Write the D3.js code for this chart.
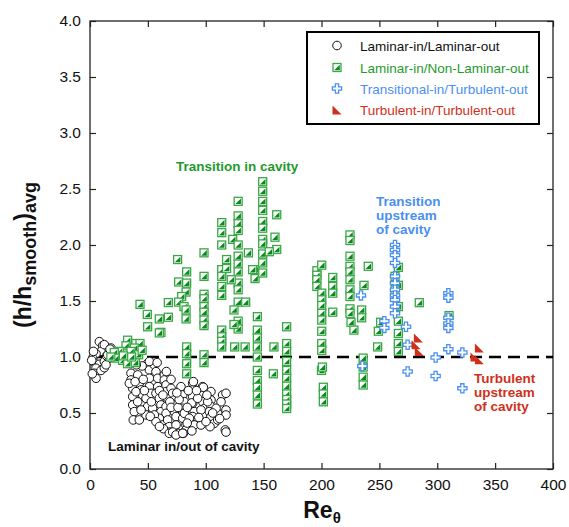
<!DOCTYPE html>
<html>
<head>
<meta charset="utf-8">
<script src="https://cdn.jsdelivr.net/npm/d3@7"></script>
<style>
  body { margin: 0; background: #fff; }
  svg { display: block; }
  text { font-family: "Liberation Sans", Arial, Helvetica, sans-serif; }
</style>
</head>
<body>
<svg id="chart" width="569" height="527"></svg>
<script>
// ---- data ---------------------------------------------------------------
const xTicks = [0, 50, 100, 150, 200, 250, 300, 350, 400];
const yTicks = [0, 0.5, 1.0, 1.5, 2.0, 2.5, 3.0, 3.5, 4.0];
const seriesNames = [
  "Laminar-in/Laminar-out",
  "Laminar-in/Non-Laminar-out",
  "Transitional-in/Turbulent-out",
  "Turbulent-in/Turbulent-out"
];
const referenceLevel = 1.0;

// [Re_theta, (h/h_smooth)_avg]
const laminarLaminar = [
  [8.1,1.137],[10.9,1.10],[13.8,1.06],[9.5,1.05],[5.2,1.03],[2.3,0.99],[3.7,0.95],[8.1,0.935],
  [12.4,0.96],[16.7,0.99],[14.4,1.01],[5.2,0.90],[3.7,0.855],[5.2,0.81],[9.5,0.88],[12.4,0.905],
  [13.8,0.93],[15.3,1.02],[12.4,1.11],[18.1,1.08],[1.5,0.97],[2.0,0.85],[3.0,1.05],[17.3,1.07],
  [35.4,0.855],[35.4,0.795],[36.9,0.72],[36.9,0.646],[36.9,0.572],[38.3,0.512],[37.4,0.438],[42.6,0.438],
  [41.2,0.84],[42.6,0.765],[44.1,0.706],[45.5,0.661],[48.4,0.631],[49.8,0.557],[48.4,0.483],[49.8,0.944],
  [51.3,0.884],[51.3,0.81],[51.3,0.735],[52.7,0.676],[55.6,0.929],[57.0,0.869],[58.5,0.81],[58.5,0.735],
  [57.0,0.676],[59.9,0.631],[61.3,0.572],[61.3,0.512],[59.9,0.453],[62.8,0.393],[64.2,0.84],[64.2,0.795],
  [65.7,0.75],[65.7,0.691],[67.1,0.631],[65.7,0.557],[65.7,0.497],[67.1,0.438],[68.5,0.378],[70.0,0.72],
  [71.4,0.676],[72.9,0.616],[72.9,0.572],[72.9,0.512],[74.3,0.468],[74.3,0.393],[75.7,0.319],[80.1,0.453],
  [78.6,0.735],[80.1,0.661],[81.5,0.601],[80.1,0.542],[81.5,0.497],[82.9,0.393],[82.9,0.349],[88.7,0.765],
  [88.7,0.706],[88.7,0.646],[88.7,0.587],[90.1,0.512],[88.7,0.468],[90.1,0.393],[97.3,0.735],[97.3,0.661],
  [97.3,0.601],[98.8,0.542],[97.3,0.483],[95.9,0.393],[104.5,0.691],[104.5,0.616],[104.5,0.557],[103.1,0.512],
  [104.5,0.468],[110.3,0.497],[114.6,0.661],[117.5,0.676],[117.5,0.527],[117.5,0.482],[116.9,0.349],[107.4,0.408],
  [113.2,0.60],[117.5,0.33],[103.7,0.378],[97.9,0.73],[89.3,0.78],[87.8,0.59],[80.6,0.318],[76.3,0.318],
  [69.1,0.33],[63.4,0.36],[51.3,0.96],[34.0,0.765],[39.7,0.69],[41.2,0.60],[44.1,0.527],[54.1,0.542],
  [55.6,0.483],[57.0,0.423],[68.5,0.319],[71.4,0.33],[74.3,0.304],[80.1,0.319],[85.8,0.453],[93.0,0.631],
  [95.9,0.527],[101.7,0.601],[100.2,0.423],[108.9,0.542],[110.3,0.438],
  [39.0,0.78],[46.0,0.80],[53.0,0.60],[47.0,0.70],[60.0,0.70],[63.0,0.66],[69.0,0.60],[70.0,0.55],
  [76.0,0.55],[77.0,0.62],[84.0,0.55],[85.0,0.70],[92.0,0.70],[94.0,0.46],[101.0,0.66],[106.0,0.50],
  [112.0,0.45],[84.0,0.41],[88.0,0.34],[60.0,0.38],[52.0,0.47],[45.0,0.92],[40.0,0.93],[58.0,0.95],
  [66.0,0.87],[70.0,0.80],[75.0,0.68]
];

const laminarNonLaminar = [
  [49.8,1.27],[61.3,1.22],[32.5,1.15],[39.7,1.12],[43.2,1.12],[31.1,1.10],[38.3,1.08],[35.4,1.05],
  [25.3,1.05],[21.0,1.04],[22.5,0.99],[28.2,0.97],[32.5,0.94],[39.2,0.95],[28.8,1.01],[42.0,1.02],
  [36.0,1.00],[18.0,1.00],[45.0,1.06],
  [43.2,1.47],[49.5,1.38],[59.9,1.34],[59.9,1.215],[67.7,1.486],[67.7,1.355],[75.7,1.87],[76.6,1.67],
  [83.5,1.76],[83.5,1.66],[83.0,1.58],[79.2,1.54],[76.6,1.49],[81.2,1.45],[83.0,1.42],[83.0,1.34],
  [83.5,1.09],[83.5,1.03],[83.5,0.94],[83.5,0.85],
  [98.5,1.93],[98.5,1.72],[98.5,1.56],[98.5,1.52],[98.5,1.45],[98.5,1.40],[98.5,1.33],[98.5,1.28],
  [98.5,1.02],[98.5,0.95],
  [113.8,2.20],[113.8,2.11],[113.8,2.00],[113.8,1.78],[113.8,1.72],[113.8,1.63],[113.8,1.55],[113.8,1.24],
  [113.8,1.18],[113.8,1.14],[113.8,1.09],
  [128,2.39],[128,2.26],[128,2.19],[128,2.13],[123.3,2.05],[128,2.00],[128,1.90],[128,1.83],[128,1.76],
  [128,1.66],[128,1.60],[128,1.49],[128,1.32],[128,1.25],[118,1.87],[118,1.79],[122,1.69],[124.4,1.42],
  [124.4,1.29],[125,1.09],[134,1.09],[134.5,1.49],[136.8,1.93],
  [144.6,1.36],[144.6,1.24],[144.6,1.17],[144.6,1.09],[144.6,1.00],[144.6,0.88],[144.6,0.79],[144.6,0.73],
  [144.6,0.66],[144.6,0.58],[142.6,1.78],[142.6,1.70],
  [149.2,2.565],[149.2,2.48],[149.2,2.39],[149.2,2.31],[149.2,2.21],[149.2,2.15],[149.2,2.05],[149.2,2.01],
  [149.2,1.92],[149.2,1.84],[149.2,1.75],[140.5,1.78],
  [161.3,2.27],[159.8,2.07],[161.3,1.96],[154.9,1.94],[158.9,1.09],[158.4,0.85],
  [169.9,1.27],[169.9,1.12],[169.9,1.05],[169.9,0.96],[169.9,0.88],[169.9,0.81],[169.9,0.74],[169.9,0.67],
  [169.9,0.62],[169.9,0.58],[169.9,0.54],
  [196,1.77],[196,1.73],[196,1.69],[196,1.63],[200.2,1.82],[200.2,1.57],[200.2,1.51],[200.2,1.46],
  [200.2,1.39],[200.2,1.33],[200.2,1.23],[200.2,1.12],[200.2,1.06],[200,0.88],[200.8,0.91],[201.6,0.73],
  [201.6,0.67],[201.6,0.60],
  [209.7,1.71],[209.7,1.63],[209.7,1.57],[209.7,1.40],
  [224.6,2.09],[224.6,2.04],[224.6,1.90],[224.6,1.81],[224.6,1.76],[224.6,1.69],[224.6,1.60],[224.6,1.54],
  [224.6,1.43],[224.6,1.39],[225.5,1.31],[228,1.24],
  [234.7,1.42],[234.7,1.35],[236.7,1.64],[240.4,1.81],[236,0.99],[236,0.91],[236,0.82],[236,0.75],
  [249.1,1.23],[248.5,1.09],[251.1,1.31],
  [266.4,1.80],[263.5,1.72],[266.4,1.64],[263.5,1.60],[266.4,1.45],[266.4,1.32],[266.4,1.21],[266.4,1.12],
  [266.4,1.05],
  [284.5,1.485],[310.2,1.37]
];

const transitionalTurbulent = [
  [263.5,2.00],[263.5,1.955],[263.5,1.91],[263.5,1.84],[263.5,1.72],[263.5,1.66],[263.5,1.60],[263.5,1.55],
  [263.5,1.51],[263.5,1.45],[263.5,1.39],[234.1,1.55],[254.3,1.32],[254.3,1.26],[273.0,1.27],[274.4,1.11],
  [274.4,0.87],[298.6,0.995],[298.6,0.83],[309.6,1.57],[309.6,1.53],[309.6,1.35],[309.6,1.30],[309.6,1.26],
  [309.6,1.07],[321.7,1.04],[321.7,0.72],[235.3,0.92]
];

const turbulentTurbulent = [
  [283.7,1.17],[281.7,1.11],[284.5,1.05],[336.4,1.08],[332.6,1.00],[336.4,0.975]
];

// ---- layout -------------------------------------------------------------
const svg = d3.select("#chart");
const plot = { left: 90, top: 21, right: 553, bottom: 469 };

const x = d3.scaleLinear().domain([0, 400]).range([plot.left, plot.right]);
const y = d3.scaleLinear().domain([0, 4]).range([plot.bottom, plot.top]);

const GREEN_EDGE = "#3aa846", GREEN_FILL = "#0a8a1e", GREEN_TEXT = "#1f9a2c";
const BLUE = "#4a90f0", RED = "#d0301a";

// ---- axes (inward ticks on all four sides) ------------------------------
const tickLen = 6;
const fmt = d3.format(".1f");

const gx = svg.append("g").attr("transform", `translate(0,${plot.bottom})`)
  .call(d3.axisBottom(x).tickValues(xTicks).tickSizeInner(-tickLen).tickSizeOuter(0).tickPadding(10).tickFormat(d3.format("d")));
const gy = svg.append("g").attr("transform", `translate(${plot.left},0)`)
  .call(d3.axisLeft(y).tickValues(yTicks).tickSizeInner(-tickLen).tickSizeOuter(0).tickPadding(9).tickFormat(fmt));
const gt = svg.append("g").attr("transform", `translate(0,${plot.top})`)
  .call(d3.axisTop(x).tickValues(xTicks).tickSizeInner(-tickLen).tickSizeOuter(0).tickFormat(""));
const gr = svg.append("g").attr("transform", `translate(${plot.right},0)`)
  .call(d3.axisRight(y).tickValues(yTicks).tickSizeInner(-tickLen).tickSizeOuter(0).tickFormat(""));

[gx, gy, gt, gr].forEach(g => {
  g.select(".domain").remove();
  g.selectAll(".tick line").attr("stroke", "#222").attr("stroke-width", 1.2);
  g.selectAll(".tick text").attr("fill", "#111").style("font-size", "15.5px")
    .style("font-family", '"Liberation Sans", Arial, sans-serif');
});

// frame
svg.append("rect")
  .attr("x", plot.left).attr("y", plot.top)
  .attr("width", plot.right - plot.left).attr("height", plot.bottom - plot.top)
  .attr("fill", "none").attr("stroke", "#222").attr("stroke-width", 1.3);

// ---- axis titles --------------------------------------------------------
const xTitle = svg.append("text")
  .attr("x", 322).attr("y", 518).attr("text-anchor", "middle")
  .attr("font-weight", "bold").attr("fill", "#111").style("font-size", "23px");
xTitle.append("tspan").text("Re");
xTitle.append("tspan").attr("dy", 5).style("font-size", "15px").text("θ");

const yTitle = svg.append("text")
  .attr("transform", "translate(31,255) rotate(-90)").attr("text-anchor", "middle")
  .attr("font-weight", "bold").attr("fill", "#111").style("font-size", "23px");
yTitle.append("tspan").text("(h/h");
yTitle.append("tspan").attr("dy", 5).style("font-size", "18px").text("smooth");
yTitle.append("tspan").attr("dy", -5).text(")");
yTitle.append("tspan").attr("dy", 5).style("font-size", "18px").text("avg");

// ---- reference line -----------------------------------------------------
svg.append("line")
  .attr("x1", x(0)).attr("x2", x(400))
  .attr("y1", y(referenceLevel)).attr("y2", y(referenceLevel))
  .attr("stroke", "#000").attr("stroke-width", 2.6).attr("stroke-dasharray", "12,7");

// ---- marker shapes ------------------------------------------------------
function drawCircle(g, cx, cy) {
  g.append("circle").attr("cx", cx).attr("cy", cy).attr("r", 4.3)
    .attr("fill", "#fff").attr("stroke", "#111").attr("stroke-width", 1);
}
function drawHalfSquare(g, cx, cy) {
  const s = 4;
  g.append("rect").attr("x", cx - s).attr("y", cy - s).attr("width", 2 * s).attr("height", 2 * s)
    .attr("fill", "#fff").attr("stroke", GREEN_EDGE).attr("stroke-width", 1.3);
  const t = s - 1.2;
  g.append("path")
    .attr("d", `M${cx + t},${cy - t}L${cx + t},${cy + t}L${cx - t},${cy + t}Z`)
    .attr("fill", GREEN_FILL);
}
function drawCross(g, cx, cy) {
  const a = 1.6, L = 4.6;
  const pts = [[-a,-L],[a,-L],[a,-a],[L,-a],[L,a],[a,a],[a,L],[-a,L],[-a,a],[-L,a],[-L,-a],[-a,-a]];
  g.append("path")
    .attr("d", "M" + pts.map(p => `${cx + p[0]},${cy + p[1]}`).join("L") + "Z")
    .attr("fill", "#fff").attr("stroke", BLUE).attr("stroke-width", 1.3);
}
function drawCornerTriangle(g, cx, cy) {
  const s = 4.5;
  g.append("path")
    .attr("d", `M${cx - s},${cy - s}L${cx - s},${cy + s}L${cx + s},${cy + s}Z`)
    .attr("fill", RED);
}

const series = [
  { data: laminarLaminar, draw: drawCircle },
  { data: laminarNonLaminar, draw: drawHalfSquare },
  { data: transitionalTurbulent, draw: drawCross },
  { data: turbulentTurbulent, draw: drawCornerTriangle }
];

const marks = svg.append("g");
series.forEach(s => {
  const g = marks.append("g");
  s.data.forEach(d => s.draw(g, x(d[0]), y(d[1])));
});

// ---- annotations --------------------------------------------------------
function note(lines, px, py, color, lh) {
  const t = svg.append("text").attr("x", px).attr("y", py)
    .attr("font-weight", "bold").attr("fill", color).style("font-size", "13.5px");
  lines.forEach((l, i) => t.append("tspan").attr("x", px).attr("dy", i ? lh : 0).text(l));
}
note(["Transition in cavity"], 176, 171, GREEN_TEXT, 0);
note(["Transition", "upstream", "of cavity"], 376, 206, BLUE, 13.8);
note(["Turbulent", "upstream", "of cavity"], 474, 383, RED, 13.8);
note(["Laminar in/out of cavity"], 108, 451, "#111", 0);

// ---- legend -------------------------------------------------------------
const legend = svg.append("g");
legend.append("rect").attr("x", 307).attr("y", 32).attr("width", 232).attr("height", 92)
  .attr("fill", "#fff").attr("stroke", "#000").attr("stroke-width", 2);
const legendColors = ["#111", GREEN_TEXT, BLUE, RED];
const rowY = [45.5, 67.5, 88.5, 110];
seriesNames.forEach((name, i) => {
  series[i].draw(legend, 337, rowY[i]);
  legend.append("text").attr("x", 360).attr("y", rowY[i] + 5)
    .attr("fill", legendColors[i]).style("font-size", "13.5px").text(name);
});
</script>
</body>
</html>
